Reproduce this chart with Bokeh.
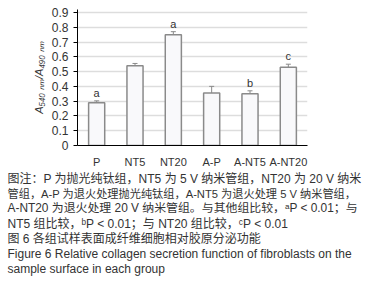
from bokeh.plotting import figure
from bokeh.layouts import column
from bokeh.models import FactorRange, Range1d, Label, ColumnDataSource, Whisker, SingleIntervalTicker
from bokeh.core.properties import value
from bokeh.embed import file_html
from bokeh.resources import INLINE

groups = ["P", "NT5", "NT20", "A-P", "A-NT5", "A-NT20"]
means = [0.29, 0.54, 0.75, 0.355, 0.35, 0.53]
errors = [0.012, 0.015, 0.02, 0.045, 0.02, 0.02]
sig = ["a", "", "a", "", "b", "c"]

caption_lines = [
    "图注：P 为抛光纯钛组，NT5 为 5 V 纳米管组，NT20 为 20 V 纳米",
    "管组，A-P 为退火处理抛光纯钛组，A-NT5 为退火处理 5 V 纳米管组，",
    "A-NT20 为退火处理 20 V 纳米管组。与其他组比较，ᵃP < 0.01；与",
    "NT5 组比较，ᵇP < 0.01；与 NT20 组比较，ᶜP < 0.01",
    "图 6   各组试样表面成纤维细胞相对胶原分泌功能",
    "Figure 6   Relative collagen secretion function of fibroblasts on the",
    "sample surface in each group",
]
caption_sizes = ["12px", "11.2px", "11.9px", "12px", "12px", "12px", "12px"]

FONT = "'Liberation Sans', 'Noto Sans CJK SC', sans-serif"
W = 364
H1, H2 = 170, 122

upper = [m + e for m, e in zip(means, errors)]
src = ColumnDataSource(dict(g=groups, m=means, up=upper, sig=sig))

p = figure(width=W, height=H1, x_range=FactorRange(*groups, range_padding=0),
           y_range=Range1d(0, 0.92), output_backend="svg", toolbar_location=None,
           min_border_left=77, min_border_right=57, min_border_top=9, min_border_bottom=20,
           frame_align=False)
p.outline_line_color = None
p.background_fill_color = "white"

p.vbar(x="g", top="m", width=0.42, source=src, fill_color="#f9f9fb",
       line_color="#8a8a8a", line_width=1.5)
w = Whisker(source=src, base="g", lower="m", upper="up", line_color="#8a8a8a",
            line_width=1, lower_head=None)
w.upper_head.size = 5
w.upper_head.line_color = "#8a8a8a"
p.add_layout(w)

p.text(x="g", y="up", text="sig", source=src, text_align="center",
       text_baseline="bottom", y_offset=-2, text_font_size="11px",
       text_color="#333333", text_font=value(FONT))

p.xgrid.grid_line_color = None
p.ygrid.grid_line_color = "#dddddd"
p.ygrid.grid_line_width = 1.5
p.yaxis.ticker = SingleIntervalTicker(interval=0.1)
p.yaxis.major_label_overrides = {0: "0"}
p.yaxis.minor_tick_line_color = None
p.yaxis.major_tick_out = 4
p.yaxis.major_tick_in = 0
p.yaxis.axis_line_color = "black"
p.yaxis.major_tick_line_color = "black"
p.yaxis.major_label_text_font_size = "12px"
p.yaxis.major_label_text_color = "#333333"
p.yaxis.major_label_text_font = FONT
p.yaxis.axis_label = "A₅₄₀ ₙₘ/A₄₉₀ ₙₘ"
p.yaxis.axis_label_text_font_size = "11px"
p.yaxis.axis_label_text_font_style = "italic"
p.yaxis.axis_label_text_color = "#333333"
p.yaxis.axis_label_text_font = FONT
p.yaxis.axis_label_standoff = 4

p.xaxis.axis_line_color = "black"
p.xaxis.major_tick_line_color = None
p.xaxis.major_label_text_font_size = "11px"
p.xaxis.major_label_text_color = "#333333"
p.xaxis.major_label_text_font = FONT
p.xaxis.major_label_standoff = 4

cap = figure(width=W, height=H2, x_range=Range1d(0, 1), y_range=Range1d(0, 1),
             output_backend="svg", toolbar_location=None,
             min_border=0, min_border_left=0, min_border_right=0,
             min_border_top=0, min_border_bottom=0, frame_align=False)
cap.axis.visible = False
cap.grid.visible = False
cap.outline_line_color = None

line_y = [114, 99, 85, 69, 54, 39, 24]
for line, fs, yy in zip(caption_lines, caption_sizes, line_y):
    cap.add_layout(Label(x=7, y=yy, x_units="screen", y_units="screen",
                         text=line, text_font=FONT, text_font_size=fs,
                         text_color="#333333", text_baseline="middle"))

layout = column(p, cap, spacing=0)
open("out.html", "w").write(file_html(layout, INLINE))
